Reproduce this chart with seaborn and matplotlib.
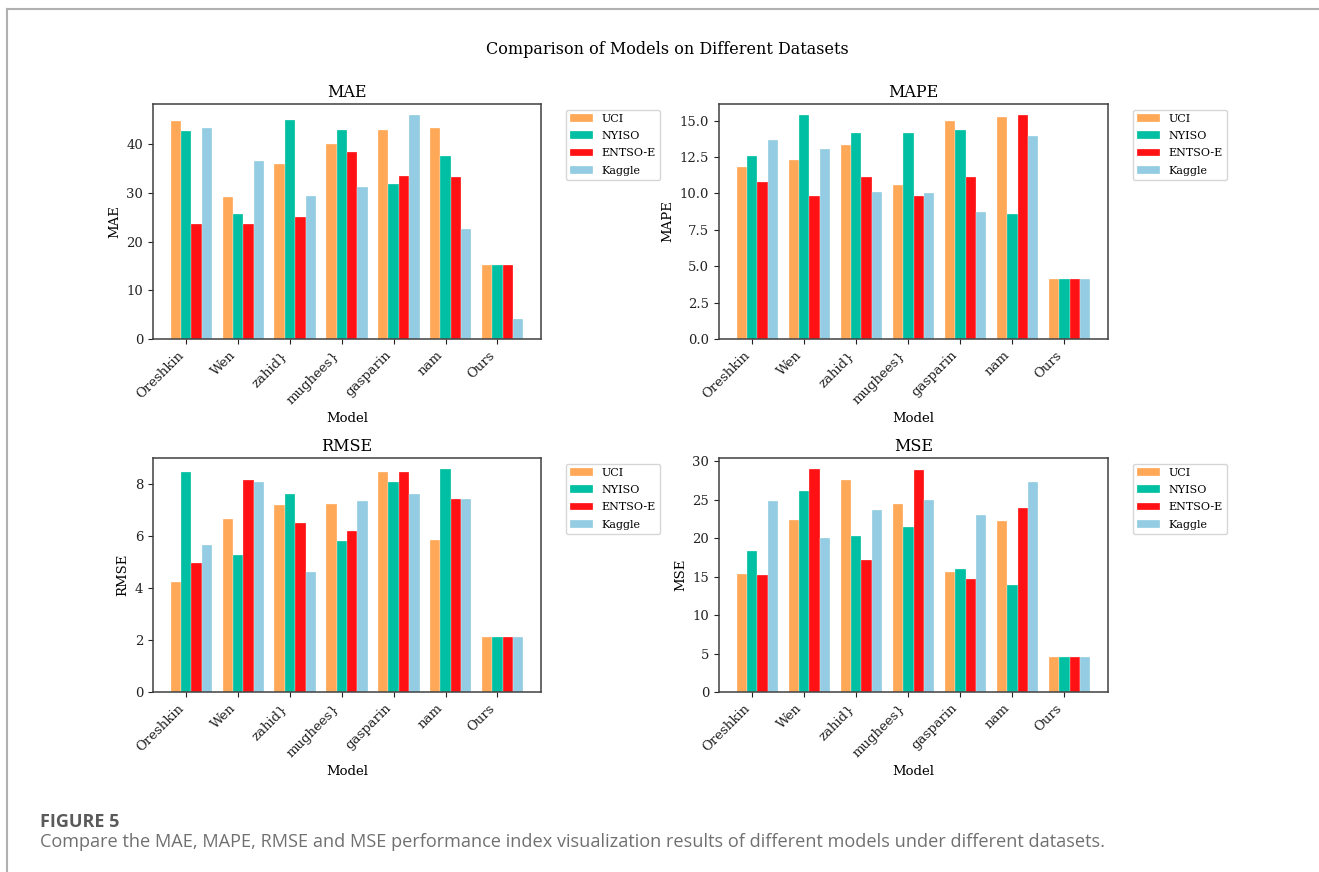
import matplotlib
matplotlib.use("Agg")
import matplotlib.pyplot as plt
import seaborn as sns
import pandas as pd
from matplotlib.lines import Line2D

models = ["Oreshkin", "Wen", "zahid}", "mughees}", "gasparin", "nam", "Ours"]
datasets = ["UCI", "NYISO", "ENTSO-E", "Kaggle"]

mae_uci = [44.9, 29.2, 36.0, 40.1, 42.9, 43.4, 15.3]
mae_nyiso = [42.7, 25.7, 45.0, 42.9, 31.8, 37.6, 15.3]
mae_entsoe = [23.6, 23.7, 25.0, 38.4, 33.4, 33.3, 15.3]
mae_kaggle = [43.4, 36.5, 29.3, 31.3, 46.0, 22.6, 4.2]

mape_uci = [11.80, 12.27, 13.30, 10.59, 14.96, 15.28, 4.11]
mape_nyiso = [12.54, 15.35, 14.15, 14.15, 14.33, 8.59, 4.11]
mape_entsoe = [10.77, 9.83, 11.14, 9.81, 11.14, 15.37, 4.11]
mape_kaggle = [13.67, 13.07, 10.10, 10.04, 8.75, 13.92, 4.11]

rmse_uci = [4.24, 6.66, 7.19, 7.24, 8.46, 5.84, 2.11]
rmse_nyiso = [8.46, 5.26, 7.62, 5.79, 8.06, 8.56, 2.11]
rmse_entsoe = [4.94, 8.13, 6.49, 6.17, 8.46, 7.41, 2.11]
rmse_kaggle = [5.63, 8.05, 4.60, 7.32, 7.59, 7.41, 2.11]

mse_uci = [15.32, 22.30, 27.49, 24.46, 15.58, 22.20, 4.55]
mse_nyiso = [18.35, 26.15, 20.26, 21.47, 15.93, 13.85, 4.55]
mse_entsoe = [15.24, 28.96, 17.19, 28.83, 14.68, 23.90, 4.55]
mse_kaggle = [24.85, 19.96, 23.60, 24.98, 23.03, 27.32, 4.55]

metrics = {
    "MAE": [mae_uci, mae_nyiso, mae_entsoe, mae_kaggle],
    "MAPE": [mape_uci, mape_nyiso, mape_entsoe, mape_kaggle],
    "RMSE": [rmse_uci, rmse_nyiso, rmse_entsoe, rmse_kaggle],
    "MSE": [mse_uci, mse_nyiso, mse_entsoe, mse_kaggle],
}

palette = {"UCI": "#FFA958", "NYISO": "#00BFA3", "ENTSO-E": "#FF1114", "Kaggle": "#94CDE3"}

plt.rcParams["font.family"] = ["DejaVu Serif"]

W, H = 1319, 872
fig = plt.figure(figsize=(W / 100, H / 100), dpi=100)

def box(x0, y0, x1, y1):
    return [x0 / W, 1 - y1 / H, (x1 - x0) / W, (y1 - y0) / H]

positions = {
    "MAE": box(153, 104, 541, 339),
    "MAPE": box(719, 104, 1108, 339),
    "RMSE": box(153, 458, 541, 692),
    "MSE": box(719, 458, 1108, 692),
}

n = len(models)
for name, series in metrics.items():
    rows = []
    for ds, vals in zip(datasets, series):
        for m, v in zip(models, vals):
            rows.append({"Model": m, "Dataset": ds, "Value": v})
    df = pd.DataFrame(rows)
    ax = fig.add_axes(positions[name])
    sns.barplot(data=df, x="Model", y="Value", hue="Dataset", hue_order=datasets,
                order=models, palette=palette, ax=ax, errorbar=None,
                width=0.8, edgecolor="white", linewidth=0.2, saturation=1)
    # ticks sit under the second bar of each group, default-margin x limits
    ax.set_xticks([i - 0.1 for i in range(n)])
    ax.set_xticklabels(models)
    ax.set_xlim(-0.4 - 0.34, (n - 1) + 0.4 + 0.34)
    ax.set_title(name, fontsize=11.5, pad=5)
    ax.set_ylabel(name, fontsize=9.5)
    ax.set_xlabel("Model", fontsize=9.5)
    ax.tick_params(axis="both", labelsize=9.5, colors="#222222")
    plt.setp(ax.get_xticklabels(), rotation=45, ha="right")
    for s in ax.spines.values():
        s.set_color("#404040")
        s.set_linewidth(1.1)
    ax.margins(y=0.05)
    ax.legend(loc="upper left", bbox_to_anchor=(1.05, 1), fontsize=8,
              labelspacing=0.65, frameon=True, edgecolor="#cccccc")

fig.text(0.506, 1 - 49 / H, "Comparison of Models on Different Datasets",
         ha="center", va="center", fontsize=11.5)

fig.text(40 / W, 1 - 822 / H, "FIGURE 5", ha="left", va="center",
         fontsize=13, fontweight="bold", color="#5a5a5a", family=["Open Sans"])
fig.text(40 / W, 1 - 842 / H,
         "Compare the MAE, MAPE, RMSE and MSE performance index visualization results of different models under different datasets.",
         ha="left", va="center", fontsize=13.1, color="#707070", family=["Open Sans"])

fig.add_artist(Line2D([7 / W, 1], [1 - 9 / H, 1 - 9 / H], transform=fig.transFigure,
                      color="#b0b0b0", linewidth=1.5))
fig.add_artist(Line2D([7 / W, 7 / W], [0, 1 - 9 / H], transform=fig.transFigure,
                      color="#b0b0b0", linewidth=1.5))

fig.savefig("out.png", dpi=100)
